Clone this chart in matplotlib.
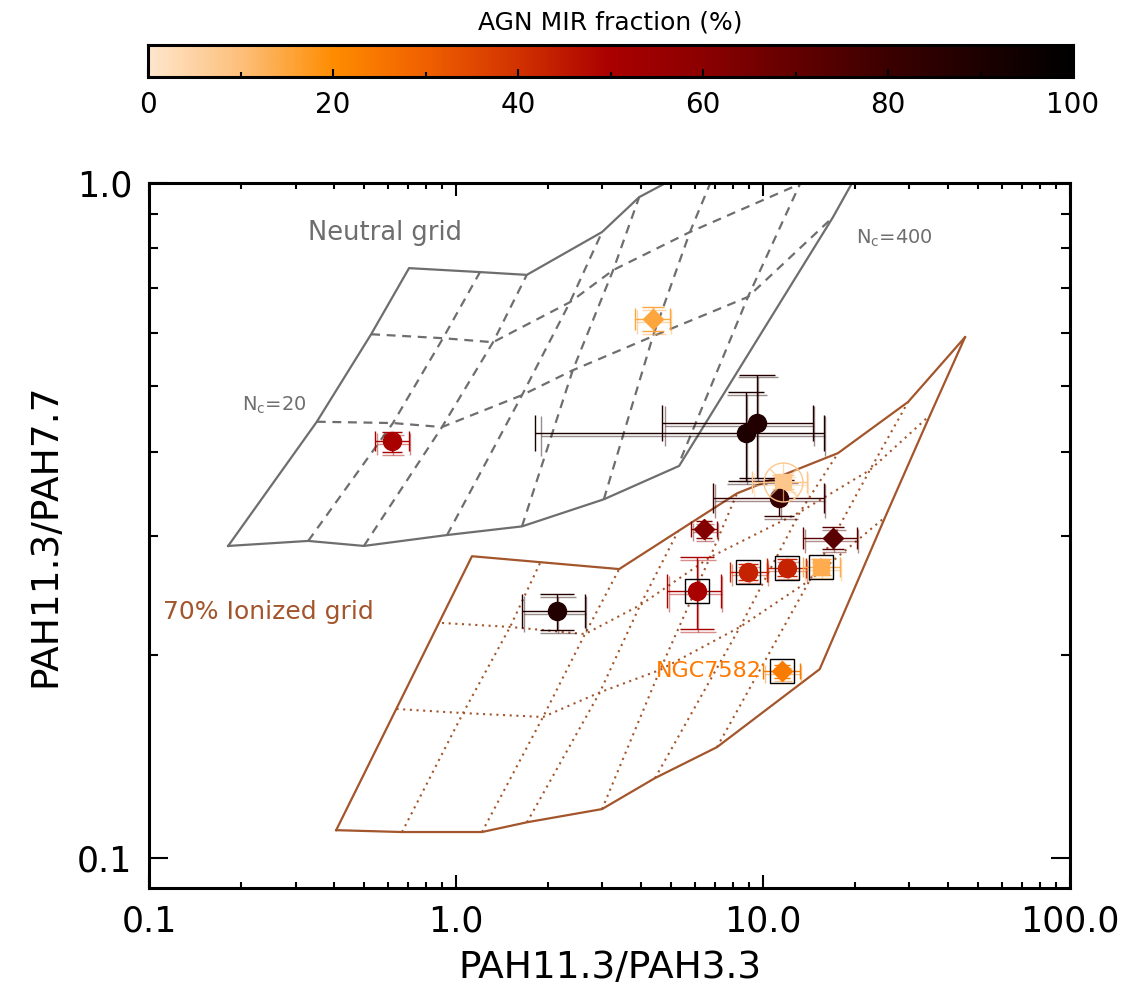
import numpy as np
import matplotlib.pyplot as plt
from matplotlib.colors import LinearSegmentedColormap

# colour scale of the AGN MIR fraction (%)
cb_stops = [0, 10, 20, 30, 40, 50, 60, 70, 80, 90, 100]
cb_colors = ['#ffe6cc', '#fdbf7a', '#ff8c00', '#f06000', '#d23200', '#aa0000',
             '#8c0000', '#640000', '#3c0000', '#1e0000', '#000000']

# galaxies: PAH11.3/PAH3.3 (x) and PAH11.3/PAH7.7 (y) with error ranges
gal_x = [0.619, 4.38, 8.80, 9.56, 11.6, 11.3, 6.43, 16.9, 6.10, 8.94, 11.97, 15.45, 11.5, 2.13]
gal_x_lo = [0.545, 3.83, 1.81, 4.69, 9.21, 6.87, 5.83, 13.5, 4.87, 7.82, 10.3, 13.5, 10.0, 1.64]
gal_x_hi = [0.703, 4.98, 15.8, 14.55, 13.9, 15.8, 7.08, 20.2, 7.30, 10.3, 13.8, 17.8, 13.2, 2.63]
gal_y = [0.415, 0.629, 0.426, 0.441, 0.361, 0.3415, 0.307, 0.298, 0.2486, 0.2653, 0.269, 0.270, 0.189, 0.232]
gal_y_lo = [0.3995, 0.603, 0.362, 0.366, 0.352, 0.321, 0.298, 0.287, 0.2184, 0.258, 0.262, 0.263, 0.185, 0.218]
gal_y_hi = [0.428, 0.655, 0.490, 0.520, 0.370, 0.363, 0.316, 0.309, 0.279, 0.273, 0.277, 0.277, 0.193, 0.246]
agn_frac = [50, 15, 90, 88, 8, 82, 62, 72, 50, 43, 43, 14, 24, 88]
gal_marker = ['o', 'D', 'o', 'o', 's', 'o', 'D', 'D', 'o', 'o', 'o', 's', 'D', 'o']
boxed = [False, False, False, False, False, False, False, False, True, True, True, True, True, False]
capsizes = [7, 8, 13, 13, 8, 11, 6, 8, 12, 7, 7, 7, 6, 12]

# neutral grid (gray)
neu_out1_x = [0.181, 0.330, 0.501, 0.935, 1.64, 3.03, 5.33, 16.9, 19.5, 21.7]
neu_out1_y = [0.290, 0.295, 0.290, 0.301, 0.310, 0.340, 0.381, 0.890, 1.0, 1.09]
neu_out2_x = [0.181, 0.352, 0.529, 0.703, 1.197, 1.70, 2.99, 3.95, 4.76, 6.23]
neu_out2_y = [0.290, 0.443, 0.597, 0.748, 0.738, 0.731, 0.846, 0.953, 0.997, 1.063]
neu_rows_x = [[0.352, 0.623, 0.900, 1.64, 2.40, 4.38, 8.93, 16.9],
              [0.529, 0.907, 1.32, 2.35, 3.25, 5.78, 13.2, 20.7]]
neu_rows_y = [[0.443, 0.441, 0.435, 0.485, 0.528, 0.593, 0.678, 0.890],
              [0.597, 0.589, 0.581, 0.666, 0.743, 0.846, 0.997, 1.09]]
neu_cols_x = [[0.330, 0.623, 0.907, 1.197],
              [0.501, 0.900, 1.32, 1.70],
              [0.935, 1.64, 2.35, 2.99],
              [1.64, 2.40, 3.25, 3.95],
              [3.03, 4.38, 5.78, 7.35],
              [5.41, 8.93, 13.2, 14.4]]
neu_cols_y = [[0.295, 0.441, 0.589, 0.738],
              [0.290, 0.435, 0.581, 0.731],
              [0.301, 0.485, 0.666, 0.846],
              [0.310, 0.528, 0.743, 0.953],
              [0.340, 0.593, 0.846, 1.10],
              [0.391, 0.678, 0.997, 1.09]]

# 70% ionized grid (sienna)
ion_out1_x = [0.407, 1.127, 3.40, 5.29, 8.23, 17.55, 29.7, 45.5]
ion_out1_y = [0.110, 0.280, 0.268, 0.305, 0.347, 0.398, 0.474, 0.591]
ion_out2_x = [0.407, 0.667, 1.215, 1.703, 2.99, 4.45, 7.08, 15.3, 25.0, 35.0, 45.5]
ion_out2_y = [0.110, 0.1093, 0.1093, 0.1130, 0.1182, 0.1314, 0.146, 0.1905, 0.320, 0.453, 0.591]
ion_rows_x = [[0.64, 1.054, 1.920, 2.94, 4.62, 8.42, 14.2, 25.0],
              [0.900, 1.50, 2.63, 3.98, 6.72, 13.2, 22.3, 35.0]]
ion_rows_y = [[0.1663, 0.164, 0.1618, 0.176, 0.190, 0.220, 0.258, 0.320],
              [0.223, 0.220, 0.2147, 0.237, 0.279, 0.3256, 0.3757, 0.453]]
ion_cols_x = [[0.667, 1.054, 1.50, 1.877],
              [1.215, 1.920, 2.63, 3.40],
              [1.703, 2.94, 3.98, 5.29],
              [2.99, 4.62, 6.72, 8.23],
              [4.45, 8.42, 13.2, 17.55],
              [7.08, 14.2, 22.3, 29.7]]
ion_cols_y = [[0.1093, 0.164, 0.220, 0.2735],
              [0.1093, 0.1618, 0.2147, 0.268],
              [0.1130, 0.176, 0.237, 0.305],
              [0.1182, 0.190, 0.279, 0.347],
              [0.1314, 0.220, 0.3256, 0.398],
              [0.146, 0.258, 0.3757, 0.474]]

x_ticks = [0.1, 1.0, 10.0, 100.0]
x_labels = ['0.1', '1.0', '10.0', '100.0']
y_ticks = [0.1, 1.0]
y_labels = ['0.1', '1.0']
cb_ticks = [0, 20, 40, 60, 80, 100]

gray = '#6e6e6e'
sienna = '#a3552c'

cmap = LinearSegmentedColormap.from_list(
    'agn', list(zip(np.array(cb_stops) / 100.0, cb_colors)))

fig = plt.figure(figsize=(11.3, 10.05), dpi=100)
ax = fig.add_axes([0.1319, 0.1164, 0.815, 0.7015])
ax.set_xscale('log')
ax.set_yscale('log')

# grids
ax.plot(neu_out1_x, neu_out1_y, color=gray, lw=1.6)
ax.plot(neu_out2_x, neu_out2_y, color=gray, lw=1.6)
for xs, ys in zip(neu_rows_x + neu_cols_x, neu_rows_y + neu_cols_y):
    ax.plot(xs, ys, color=gray, lw=1.6, ls=(0, (4, 3)))
ax.plot(ion_out1_x, ion_out1_y, color=sienna, lw=1.6)
ax.plot(ion_out2_x, ion_out2_y, color=sienna, lw=1.6)
for xs, ys in zip(ion_rows_x + ion_cols_x, ion_rows_y + ion_cols_y):
    ax.plot(xs, ys, color=sienna, lw=1.5, ls=(0, (1, 2.2)))

# galaxies
for i in range(len(gal_x)):
    c = cmap(agn_frac[i] / 100.0)
    xe = [[gal_x[i] - gal_x_lo[i]], [gal_x_hi[i] - gal_x[i]]]
    ye = [[gal_y[i] - gal_y_lo[i]], [gal_y_hi[i] - gal_y[i]]]
    ax.errorbar(gal_x[i], gal_y[i], xerr=xe, yerr=ye, fmt='none', ecolor=c,
                elinewidth=1.0, capsize=capsizes[i], capthick=1.0, zorder=3)
    ax.errorbar(gal_x[i] * 1.01, gal_y[i] * 0.99, xerr=xe, yerr=ye, fmt='none',
                ecolor=c, alpha=0.45, elinewidth=1.0, capsize=capsizes[i] * 1.1,
                capthick=1.0, zorder=3)
    ms = {'o': 13, 'D': 10, 's': 11}[gal_marker[i]]
    ax.plot(gal_x[i], gal_y[i], marker=gal_marker[i], ms=ms, color=c, mec=c, zorder=4)
    if boxed[i]:
        ax.plot(gal_x[i], gal_y[i], marker='s', ms=17, mfc='none', mec='black',
                mew=1.0, zorder=5)

# special symbol around the light orange square
c5 = cmap(agn_frac[4] / 100.0)
ax.plot(gal_x[4], gal_y[4], marker='o', ms=28, mfc='none', mec=c5, mew=1.0, zorder=5)
ax.plot(gal_x[4], gal_y[4], marker=(8, 2, 0), ms=28, color=c5, mew=0.8, alpha=0.7, zorder=5)

# labels
ax.text(0.587, 0.843, 'Neutral grid', color=gray, fontsize=18.5, ha='center', va='center')
ax.text(20.1, 0.829, r'N$_\mathrm{c}$=400', color=gray, fontsize=14, ha='left', va='center')
ax.text(0.201, 0.469, r'N$_\mathrm{c}$=20', color=gray, fontsize=14, ha='left', va='center')
ax.text(0.111, 0.2314, '70% Ionized grid', color=sienna, fontsize=18, ha='left', va='center')
ax.text(9.9, 0.189, 'NGC7582', color='#ff7800', fontsize=16, ha='right', va='center')

ax.set_xlim(0.1, 100)
ax.set_ylim(0.0903, 1.0)
ax.set_xticks(x_ticks)
ax.set_xticklabels(x_labels)
ax.set_yticks(y_ticks)
ax.set_yticklabels(y_labels)
ax.xaxis.set_minor_formatter(plt.NullFormatter())
ax.yaxis.set_minor_formatter(plt.NullFormatter())
ax.tick_params(which='both', direction='in', top=True, right=True, width=1.5,
               labelsize=25, pad=12)
ax.tick_params(axis='x', which='major', length=9.5)
ax.tick_params(axis='x', which='minor', length=4.5)
ax.tick_params(axis='y', which='major', length=14)
ax.tick_params(axis='y', which='minor', length=6.5)
for sp in ax.spines.values():
    sp.set_linewidth(2.2)
ax.set_xlabel('PAH11.3/PAH3.3', fontsize=27, labelpad=8)
ax.set_ylabel('PAH11.3/PAH7.7', fontsize=27, labelpad=10)

# colour bar
cax = fig.add_axes([148 / 1130, 1 - 77 / 1005, 925 / 1130, 32 / 1005])
grad = np.linspace(0, 100, 512).reshape(1, -1)
cax.imshow(grad, aspect='auto', cmap=cmap, extent=[0, 100, 0, 1])
cax.set_xlim(0, 100)
cax.set_yticks([])
cax.set_xticks(cb_ticks)
cax.set_xticks(range(10, 100, 20), minor=True)
cax.tick_params(axis='x', which='both', direction='in', width=1.5, labelsize=20, pad=10)
cax.tick_params(axis='x', which='major', length=6)
cax.tick_params(axis='x', which='minor', length=3.5)
for sp in cax.spines.values():
    sp.set_linewidth(2.2)
cax.set_title('AGN MIR fraction (%)', fontsize=18, pad=11)

plt.savefig('out.png', dpi=100)
